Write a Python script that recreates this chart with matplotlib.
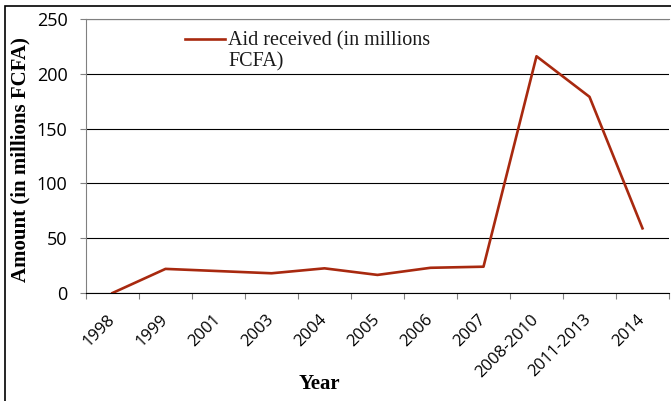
import matplotlib
matplotlib.use("Agg")
import matplotlib.pyplot as plt
from matplotlib.patches import Rectangle
from matplotlib.transforms import ScaledTranslation

years = ["1998", "1999", "2001", "2003", "2004", "2005", "2006", "2007",
         "2008-2010", "2011-2013", "2014"]
aid = [0, 22, 20, 18, 22.5, 16.5, 23, 24, 216, 179, 59]
y_ticks = [0, 50, 100, 150, 200, 250]

fig = plt.figure(figsize=(6.71, 4.01), dpi=100)
ax = fig.add_axes([86 / 671, 108 / 401, 583 / 671, 274 / 401])

x = list(range(len(years)))
ax.plot(x, aid, color="#A8290F", lw=1.9, label="Aid received (in millions\nFCFA)")

ax.set_xlim(-0.5, len(years) - 0.5)
ax.set_ylim(0, 250)
ax.set_yticks(y_ticks)
ax.yaxis.grid(True, color="black", lw=0.8)
ax.set_axisbelow(True)

# Tick marks sit on category boundaries, labels at category centres
ax.set_xticks([i - 0.5 for i in range(len(years) + 1)])
ax.set_xticklabels([])
ax.set_xticks(x, minor=True)
ax.set_xticklabels(years, minor=True, rotation=45, ha="right",
                   rotation_mode="anchor", fontsize=12, family="Open Sans")
ax.tick_params(axis="x", which="minor", length=0, pad=6)
ax.tick_params(axis="x", which="major", length=4.3, color="#808080", direction="out")
ax.tick_params(axis="y", length=4.3, color="#808080", labelsize=13, pad=9)
for lbl in ax.get_yticklabels():
    lbl.set_family("Open Sans")
shift = ScaledTranslation(-6 / 100, -10 / 100, fig.dpi_scale_trans)
for lbl in ax.get_xticklabels(minor=True):
    lbl.set_transform(lbl.get_transform() + shift)

for side in ["left", "top", "right"]:
    ax.spines[side].set_color("#808080")
ax.spines["right"].set_visible(False)
ax.spines["bottom"].set_color("black")

ax.set_ylabel("Amount (in millions FCFA)", family="Liberation Serif",
              fontweight="bold", fontsize=15)
ax.yaxis.set_label_coords((20 - 86) / 583, (293 - 160) / 274)
ax.set_xlabel("Year", family="Liberation Serif", fontweight="bold", fontsize=15)
ax.xaxis.set_label_coords((319 - 86) / 583, (293 - 384) / 274)
ax.xaxis.label.set_va("center")
ax.yaxis.label.set_va("center")

leg = ax.legend(loc="upper left", bbox_to_anchor=((185 - 86) / 583, (293 - 31) / 274),
                frameon=False, prop={"family": "Liberation Serif", "size": 14.5},
                handlelength=2.0, handletextpad=0.15, borderpad=0, borderaxespad=0)
for t in leg.get_texts():
    t.set_linespacing(1.15)
    t.set_color("#1a1a1a")
# keep the legend key level with the first line of its two-line label
for h in leg.legend_handles:
    h.set_ydata([y + 8.5 for y in h.get_ydata()])

fig.patches.append(Rectangle((5 / 671, -0.1), 1.0, 1.1 - 6 / 401,
                             transform=fig.transFigure, fill=False,
                             edgecolor="black", lw=1.2))

fig.savefig("out.png", dpi=100)
